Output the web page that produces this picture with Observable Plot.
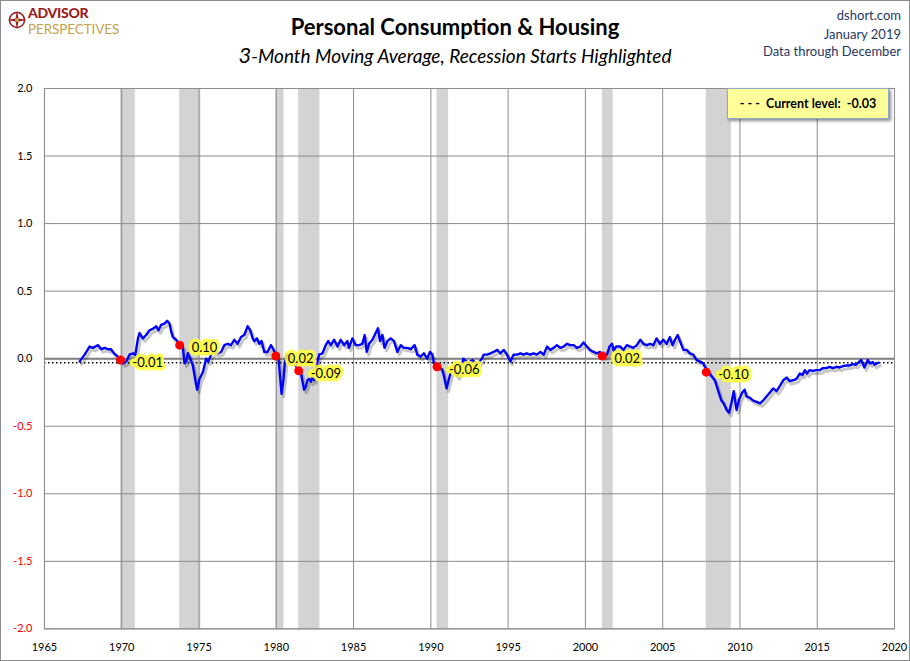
<!DOCTYPE html>
<html>
<head>
<meta charset="utf-8">
<script src="https://cdn.jsdelivr.net/npm/d3@7"></script>
<script src="https://cdn.jsdelivr.net/npm/@observablehq/plot@0.6"></script>
<style>
  html, body { margin: 0; padding: 0; background: #fff; }
  #wrap { position: relative; width: 910px; height: 661px; box-sizing: border-box; border: 1px solid #8c8c8c; font-family: Lato, "Open Sans", sans-serif; overflow: hidden; }
  #chart { position: absolute; left: -1px; top: 76px; }
  .title { position: absolute; left: 0; width: 908px; text-align: center; }
  #t1 { top: 12px; font-size: 22px; font-weight: bold; color: #000; }
  #t2 { top: 40px; font-size: 19px; font-style: italic; color: #000; }
  #t2 .big { font-size: 22px; }
  .rt { position: absolute; right: 8px; font-size: 13px; color: #1f3864; text-align: right; line-height: 16px; }
  #logo1 { position: absolute; left: 27px; top: 5px; font-size: 14px; line-height: 14px; font-weight: 900; color: #9b1c1c; letter-spacing: -0.3px; }
  #logo2 { position: absolute; left: 27px; top: 22px; font-size: 13.5px; line-height: 13px; color: #c5a24e; letter-spacing: -0.1px; }
  #logoIcon { position: absolute; left: 6px; top: 9px; }
  #legend { position: absolute; left: 726px; top: 87px; width: 160px; height: 29px; background: #ffff99; border: 1px solid #8ea9c8; box-shadow: 2px 2px 3px rgba(0,0,0,0.45); font-size: 12.5px; font-weight: bold; line-height: 29px; text-align: center; white-space: pre; }
</style>
</head>
<body>
<div id="wrap">
  <svg id="logoIcon" width="20" height="20" viewBox="0 0 20 20">
    <circle cx="10" cy="10" r="7.5" fill="none" stroke="#9b1c1c" stroke-width="1.6"/>
    <polygon points="10,0.5 11.5,8.5 19.5,10 11.5,11.5 10,19.5 8.5,11.5 0.5,10 8.5,8.5" fill="#9b1c1c"/>
    <circle cx="10" cy="10" r="2" fill="#c5a24e"/>
  </svg>
  <div id="logo1">ADVISOR</div>
  <div id="logo2">PERSPECTIVES</div>
  <div class="title" id="t1">Personal Consumption &amp; Housing</div>
  <div class="title" id="t2"><span class="big">3</span>-Month Moving Average, Recession Starts Highlighted</div>
  <div class="rt" style="top:6px">dshort.com</div>
  <div class="rt" style="top:25px">January 2019</div>
  <div class="rt" style="top:42px">Data through December</div>
  <div id="chart"></div>
  <div id="legend"></div>
</div>
<script>
// ---- data (decimal years, index values) ----
const years = [
1967.28,1967.6,1967.92,1968.14,1968.47,1968.68,1968.9,1969.1,1969.3,1969.5,1969.75,1969.92,
1970.08,1970.3,1970.5,1970.73,1970.88,1971.05,1971.15,1971.37,1971.58,1971.8,1972.0,1972.23,
1972.38,1972.55,1972.77,1972.94,1973.09,1973.2,1973.31,1973.52,1973.83,1973.95,1974.06,1974.17,
1974.28,1974.38,1974.6,1974.75,1974.88,1975.03,1975.25,1975.46,1975.6,1975.78,1975.99,1976.21,
1976.43,1976.64,1976.86,1977.07,1977.28,1977.5,1977.72,1977.93,1978.15,1978.32,1978.47,1978.58,
1978.75,1978.9,1979.05,1979.22,1979.44,1979.65,1979.76,1980.0,1980.13,1980.26,1980.34,1980.47,
1980.56,1980.69,1980.85,1981.0,1981.2,1981.35,1981.5,1981.6,1981.7,1981.8,1981.9,1982.02,
1982.13,1982.24,1982.35,1982.45,1982.55,1982.67,1982.77,1982.99,1983.2,1983.36,1983.53,1983.74,
1983.96,1984.17,1984.39,1984.6,1984.7,1984.93,1985.14,1985.36,1985.57,1985.72,1985.85,1986.0,
1986.22,1986.43,1986.58,1986.71,1986.87,1987.0,1987.19,1987.4,1987.62,1987.83,1988.05,1988.26,
1988.48,1988.7,1988.95,1989.12,1989.34,1989.55,1989.77,1989.94,1990.1,1990.2,1990.5,1990.74,
1990.85,1991.02,1991.17,1991.28,1991.5,1991.72,1991.93,1992.1,1992.4,1992.7,1993.0,1993.3,
1993.42,1993.64,1993.86,1994.07,1994.29,1994.5,1994.72,1994.93,1995.15,1995.36,1995.58,1995.8,
1996.0,1996.2,1996.44,1996.65,1996.87,1997.09,1997.3,1997.52,1997.73,1997.95,1998.16,1998.38,
1998.6,1998.8,1999.02,1999.24,1999.45,1999.67,1999.88,2000.1,2000.3,2000.53,2000.74,2000.95,
2001.17,2001.4,2001.56,2001.72,2001.83,2002.0,2002.25,2002.47,2002.68,2002.9,2003.1,2003.33,
2003.55,2003.76,2003.97,2004.19,2004.4,2004.6,2004.83,2005.04,2005.26,2005.47,2005.64,2005.8,
2005.97,2006.12,2006.34,2006.55,2006.77,2006.98,2007.2,2007.4,2007.63,2007.92,2008.06,2008.17,
2008.38,2008.6,2008.8,2008.95,2009.14,2009.3,2009.46,2009.6,2009.78,2009.95,2010.15,2010.3,
2010.43,2010.65,2010.86,2011.08,2011.3,2011.5,2011.72,2011.94,2012.15,2012.37,2012.6,2012.8,
2013.03,2013.2,2013.44,2013.66,2013.87,2014.05,2014.2,2014.34,2014.5,2014.72,2014.94,2015.16,
2015.37,2015.6,2015.8,2016.02,2016.24,2016.45,2016.67,2016.9,2017.1,2017.3,2017.5,2017.74,
2017.85,2018.05,2018.27,2018.42,2018.6,2018.7,2018.95
];
const values = [
-0.02,0.03,0.09,0.08,0.10,0.07,0.08,0.07,0.07,0.04,0.015,-0.01,
-0.035,-0.02,0.03,0.04,0.03,0.15,0.19,0.15,0.175,0.21,0.22,0.24,
0.21,0.25,0.26,0.28,0.26,0.20,0.16,0.14,0.10,0.09,-0.035,-0.02,
0.04,0.015,-0.05,-0.15,-0.23,-0.15,-0.10,0.00,-0.02,0.03,0.05,0.04,
0.05,0.10,0.11,0.10,0.14,0.11,0.16,0.175,0.24,0.21,0.15,0.13,
0.15,0.11,0.13,0.05,0.05,0.10,0.08,0.02,0.015,-0.15,-0.26,-0.15,
-0.02,0.03,0.02,0.0,-0.04,-0.07,-0.09,-0.11,-0.17,-0.23,-0.21,-0.16,
-0.15,-0.17,-0.13,-0.16,-0.10,-0.02,0.03,0.04,0.10,0.13,0.10,0.14,
0.09,0.14,0.10,0.13,0.08,0.15,0.10,0.10,0.11,0.175,0.05,0.11,
0.14,0.19,0.225,0.13,0.175,0.08,0.13,0.15,0.13,0.05,0.10,0.08,
0.08,0.07,0.10,0.03,0.015,0.04,0.0,0.05,0.03,-0.035,-0.06,-0.08,
-0.13,-0.22,-0.15,-0.10,-0.07,-0.13,-0.08,0.0,-0.03,-0.01,-0.04,0.0,
0.03,0.03,0.04,0.05,0.065,0.04,0.065,0.03,-0.02,0.03,0.03,0.04,
0.03,0.04,0.03,0.04,0.03,0.05,0.03,0.09,0.065,0.08,0.10,0.08,
0.09,0.11,0.10,0.10,0.08,0.09,0.12,0.09,0.065,0.05,0.04,0.05,
0.02,0.03,0.09,0.11,0.06,0.09,0.09,0.065,0.10,0.09,0.08,0.10,
0.14,0.11,0.10,0.11,0.10,0.15,0.11,0.14,0.11,0.16,0.10,0.14,
0.175,0.13,0.065,0.065,0.04,0.03,-0.01,-0.02,-0.035,-0.10,-0.11,-0.13,
-0.16,-0.24,-0.31,-0.33,-0.38,-0.40,-0.32,-0.24,-0.38,-0.30,-0.25,-0.23,
-0.28,-0.29,-0.31,-0.32,-0.33,-0.31,-0.28,-0.25,-0.22,-0.24,-0.20,-0.16,
-0.14,-0.165,-0.16,-0.15,-0.11,-0.12,-0.085,-0.11,-0.085,-0.09,-0.085,-0.085,
-0.07,-0.07,-0.06,-0.07,-0.06,-0.065,-0.055,-0.05,-0.05,-0.04,-0.045,-0.02,
-0.01,-0.065,-0.01,-0.035,-0.025,-0.045,-0.03
];
const recessionStarts = [1969.92, 1973.75, 1979.97, 1981.45, 1990.4, 2001.1, 2007.82];
const recessionEnds   = [1970.88, 1975.12, 1980.5, 1982.82, 1991.15, 2001.8, 2009.44];
const startValues     = [-0.01, 0.10, 0.02, -0.09, -0.06, 0.02, -0.10];
const startLabels     = ["-0.01", "0.10", "0.02", "-0.09", "-0.06", "0.02", "-0.10"];
const currentLevel = -0.03;
const xTicks = [1965,1970,1975,1980,1985,1990,1995,2000,2005,2010,2015,2020];
const yTicks = [-2.0,-1.5,-1.0,-0.5,0.0,0.5,1.0,1.5,2.0];

// ---- tables built from the arrays ----
const series = years.map((y, i) => ({year: y, value: values[i]}));
const recessions = recessionStarts.map((s, i) => ({start: s, end: recessionEnds[i], value: startValues[i], label: startLabels[i]}));
const fmt = d => d.toFixed(1);

const chart = Plot.plot({
  width: 910,
  height: 585,
  marginTop: 11,
  marginBottom: 33,
  marginLeft: 44,
  marginRight: 15,
  x: {domain: [1965, 2020], label: null},
  y: {domain: [-2, 2], label: null},
  style: {fontFamily: "Lato, 'Open Sans', sans-serif", fontSize: "11px", background: "transparent", color: "#000"},
  marks: [
    Plot.rect(recessions, {x1: "start", x2: "end", y1: -2, y2: 2, fill: "#d3d3d3"}),
    Plot.gridX(xTicks, {stroke: "#8c8c8c", strokeOpacity: 1}),
    Plot.gridY(yTicks, {stroke: "#8c8c8c", strokeOpacity: 1}),
    Plot.ruleY([0], {stroke: "#808080", strokeWidth: 2}),
    Plot.ruleY([currentLevel], {stroke: "#000", strokeWidth: 1.5, strokeDasharray: "1.5,2.5"}),
    Plot.line(series, {x: "year", y: "value", stroke: "#000", strokeOpacity: 0.22, strokeWidth: 3, dx: 2, dy: 3}),
    Plot.line(series, {x: "year", y: "value", stroke: "#0000ff", strokeWidth: 2.4}),
    Plot.dot(recessions, {x: "start", y: "value", r: 4.5, fill: "#ff0000", stroke: "none"}),
    Plot.text(recessions, {x: "start", y: "value", text: "label", textAnchor: "start", dx: 12, dy: 3,
      fontSize: 13, fill: "#000", stroke: "#ffff3c", strokeWidth: 7, strokeLinejoin: "round", paintOrder: "stroke", strokeOpacity: 0.9}),
    Plot.frame({stroke: "#8c8c8c"}),
    Plot.axisX(xTicks, {tickSize: 0, tickPadding: 14, tickFormat: d => String(d), fontSize: 11, label: null}),
    Plot.axisY(yTicks.filter(d => d >= 0), {tickSize: 0, tickPadding: 12, tickFormat: fmt, fontSize: 11, fill: "#000", label: null}),
    Plot.axisY(yTicks.filter(d => d < 0), {tickSize: 0, tickPadding: 12, tickFormat: fmt, fontSize: 11, fill: "#ff0000", label: null})
  ]
});
document.getElementById("chart").appendChild(chart);
document.getElementById("legend").textContent = "- - -  Current level:  " + currentLevel.toFixed(2);
</script>
</body>
</html>
